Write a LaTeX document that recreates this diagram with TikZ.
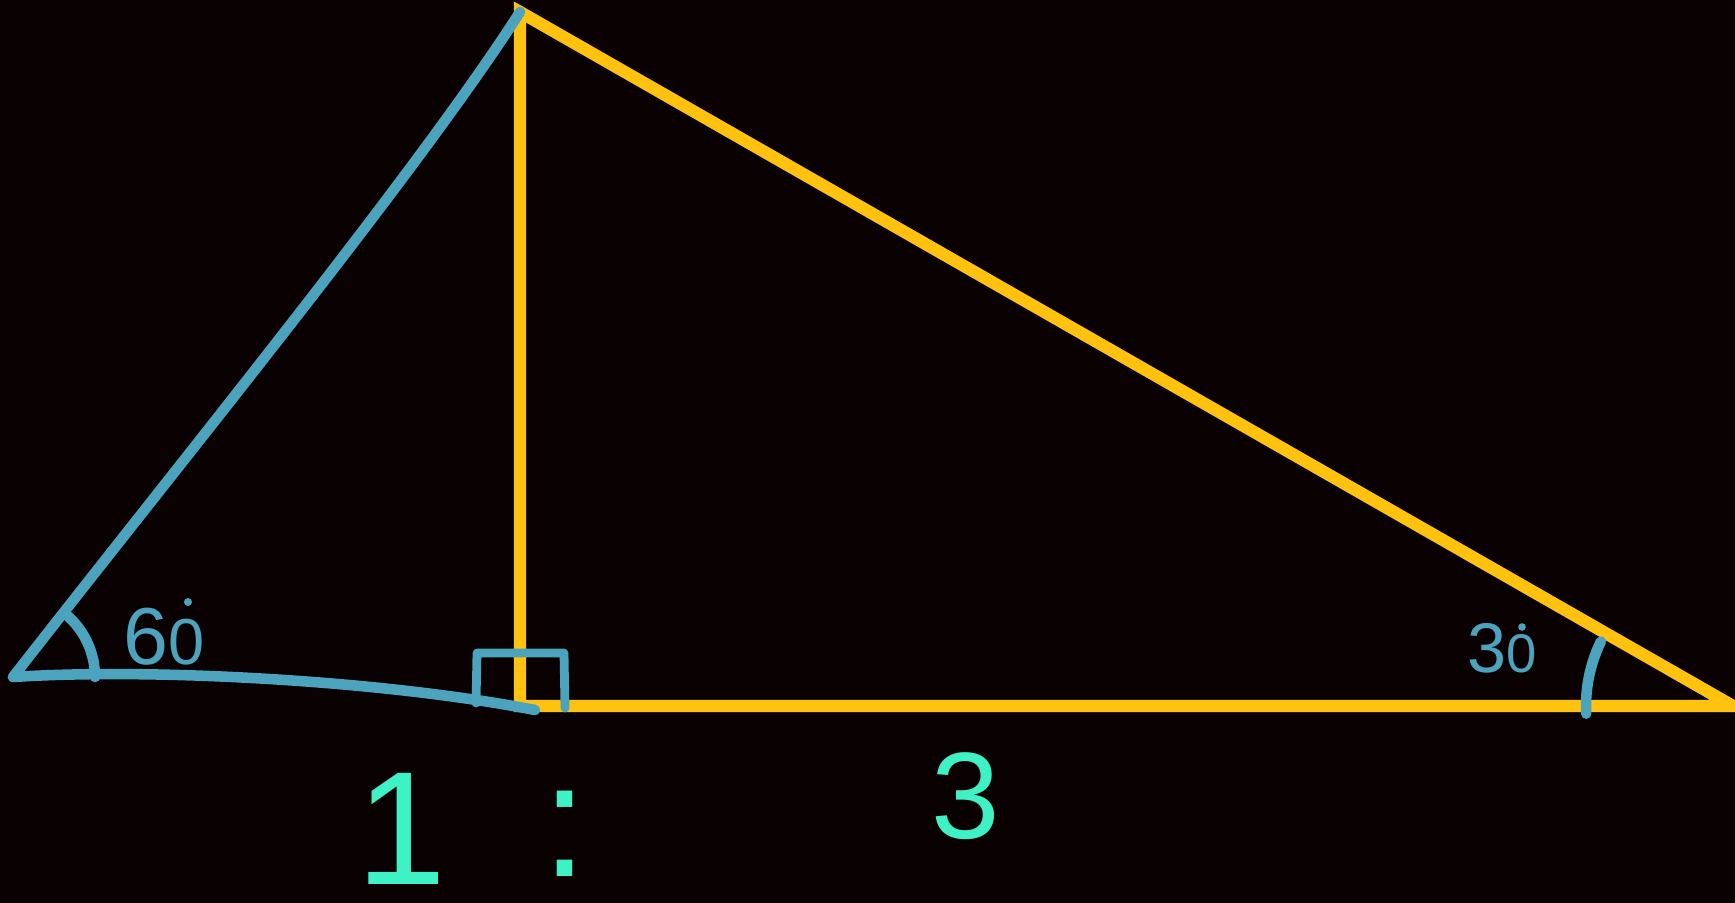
\documentclass[tikz,border=0pt]{standalone}
\usepackage{fontspec}
\setmainfont{Liberation Sans}
\definecolor{bg}{HTML}{0A0202}
\definecolor{tyellow}{HTML}{FFC20E}
\definecolor{tblue}{HTML}{4BA3BE}
\definecolor{tgreen}{HTML}{3EF2C6}
\tikzset{
  yline/.style={draw=tyellow, line width=7pt, line join=miter},
  bline/.style={draw=tblue, line width=6pt, line cap=round, line join=round},
  gtext/.style={text=tgreen, inner sep=0pt, anchor=base},
  btext/.style={text=tblue, inner sep=0pt, anchor=base},
}
\begin{document}
\begin{tikzpicture}[x=0.02cm, y=-0.02cm]
\fill[bg] (0,0) rectangle (1735,903);
\useasboundingbox (0,0) rectangle (1735,903);
% vertices
\coordinate (A) at (520,12);
\coordinate (H) at (520,706);
\coordinate (R) at (1733,706);
\coordinate (L) at (13,677);
\coordinate (E) at (535,710);
% yellow triangle
\draw[yline] (H) -- (A) -- (R) -- cycle;
% blue side
\draw[bline] (L) .. controls (196,443) and (420,168) .. (A);
\draw[bline] (L) .. controls (150,668) and (380,680) .. (E);
% angle 60
\draw[bline] (L) ++(0:82) arc[start angle=0, end angle=-51, radius=82];
\node[btext, font=\fontsize{46}{48}\selectfont] (t60) at (164,664) {6\fontsize{37}{40}\selectfont 0};
\fill[tblue] (188,602) circle (4);
% right angle mark
\coordinate (B1) at (476,703);
\coordinate (B2) at (477,653);
\coordinate (B3) at (564,653);
\coordinate (B4) at (565,708);
\draw[bline, line width=5pt] (B1) -- (B2) -- (B3) -- (B4);
% angle 30
\draw[bline] (R) ++(177:147) arc[start angle=177, end angle=206, radius=147];
\node[btext, font=\fontsize{40}{42}\selectfont] (t30) at (1502,672) {3\fontsize{31}{34}\selectfont 0};
\fill[tblue] (1522,627) circle (3.8);
% ratio
\node[gtext, font=\fontsize{92}{96}\selectfont] (one) at (401,884) {1};
\node[gtext, font=\fontsize{92}{96}\selectfont] (colon) at (565,876) {:};
\node[gtext, font=\fontsize{70}{72}\selectfont] (three) at (966,838) {3};
\end{tikzpicture}
\end{document}
